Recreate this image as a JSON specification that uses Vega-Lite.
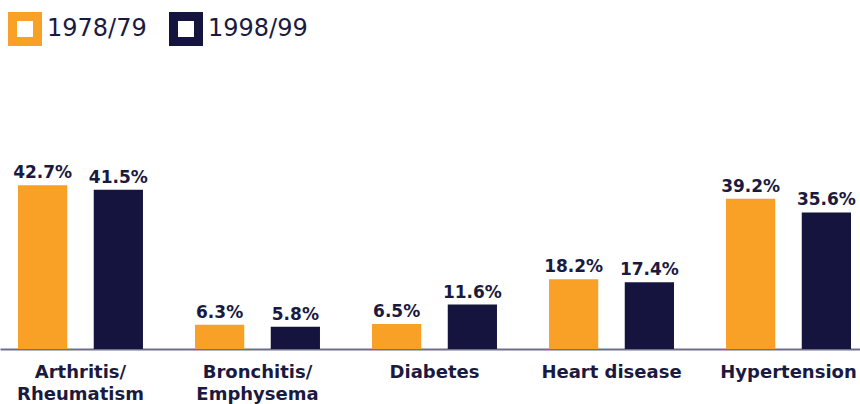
{
  "$schema": "https://vega.github.io/schema/vega-lite/v6.json",
  "width": 869,
  "height": 349,
  "autosize": {"type": "none"},
  "padding": {"left": 0, "top": 0, "right": 0, "bottom": 55},
  "background": "white",
  "config": {"view": {"stroke": null}, "font": "DejaVu Sans"},
  "data": {
    "values": [
      {"category": "Arthritis/Rheumatism", "year": "1978/79", "value": 42.7, "label": "42.7%"},
      {"category": "Arthritis/Rheumatism", "year": "1998/99", "value": 41.5, "label": "41.5%"},
      {"category": "Bronchitis/Emphysema", "year": "1978/79", "value": 6.3, "label": "6.3%"},
      {"category": "Bronchitis/Emphysema", "year": "1998/99", "value": 5.8, "label": "5.8%"},
      {"category": "Diabetes", "year": "1978/79", "value": 6.5, "label": "6.5%"},
      {"category": "Diabetes", "year": "1998/99", "value": 11.6, "label": "11.6%"},
      {"category": "Heart disease", "year": "1978/79", "value": 18.2, "label": "18.2%"},
      {"category": "Heart disease", "year": "1998/99", "value": 17.4, "label": "17.4%"},
      {"category": "Hypertension", "year": "1978/79", "value": 39.2, "label": "39.2%"},
      {"category": "Hypertension", "year": "1998/99", "value": 35.6, "label": "35.6%"}
    ]
  },
  "encoding": {
    "x": {
      "field": "category",
      "type": "nominal",
      "sort": null,
      "scale": {"paddingInner": 0.294, "paddingOuter": 0.1017},
      "axis": {
        "title": null,
        "ticks": false,
        "labelAngle": 0,
        "labelFont": "DejaVu Sans",
        "labelFontSize": 18,
        "labelFontWeight": "bold",
        "labelColor": "#1a1a40",
        "labelPadding": 14,
        "labelLineHeight": 22,
        "labelExpr": "indexof(datum.label,'/')>0 ? [slice(datum.label,0,indexof(datum.label,'/')+1), slice(datum.label,indexof(datum.label,'/')+1)] : datum.label",
        "domainColor": "#6e6e8c",
        "domainWidth": 2
      }
    },
    "xOffset": {
      "field": "year",
      "type": "nominal",
      "sort": ["1978/79", "1998/99"],
      "scale": {"paddingInner": 0.35, "paddingOuter": 0}
    },
    "y": {
      "field": "value",
      "type": "quantitative",
      "scale": {"domain": [0, 91], "nice": false},
      "axis": null
    }
  },
  "layer": [
    {
      "mark": {"type": "bar"},
      "encoding": {
        "color": {
          "field": "year",
          "type": "nominal",
          "sort": ["1978/79", "1998/99"],
          "scale": {"domain": ["1978/79", "1998/99"], "range": ["#f9a126", "#14143f"]},
          "legend": {
            "title": null,
            "orient": "none",
            "legendX": 8,
            "legendY": 12,
            "direction": "horizontal",
            "symbolType": "M-1,-1H1V1H-1Z M-0.47,-0.47V0.47H0.47V-0.47Z",
            "symbolSize": 1156,
            "symbolStrokeWidth": 0,
            "labelFont": "DejaVu Sans",
            "labelFontSize": 24,
            "labelColor": "#1a1a40",
            "labelOffset": 5,
            "columnPadding": 22
          }
        }
      }
    },
    {
      "mark": {
        "type": "text",
        "baseline": "alphabetic",
        "dy": -7,
        "font": "DejaVu Sans",
        "fontSize": 17,
        "fontWeight": "bold",
        "color": "#1a1a40"
      },
      "encoding": {"text": {"field": "label"}}
    }
  ]
}
